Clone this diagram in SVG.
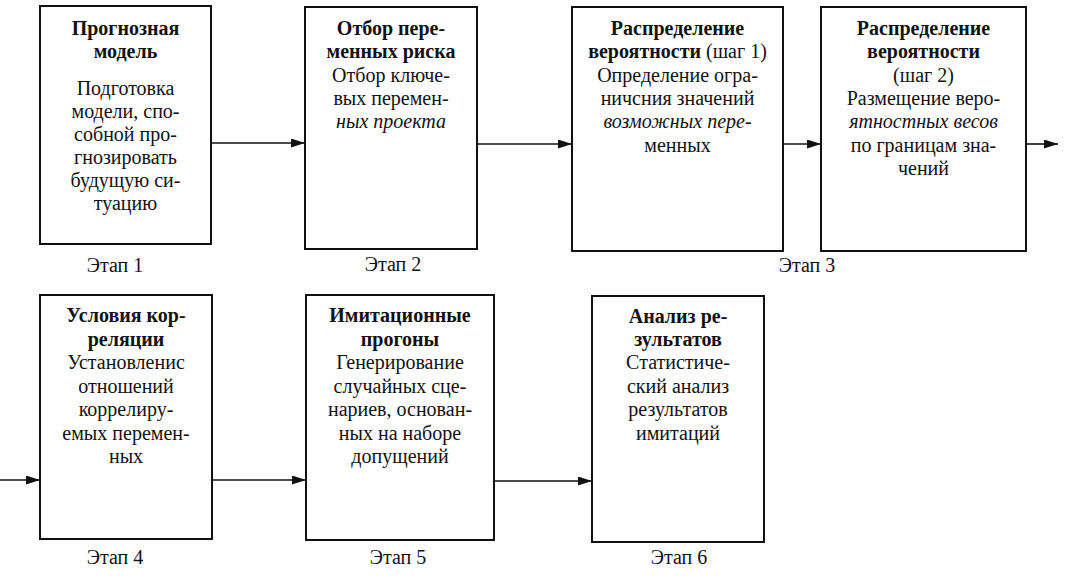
<svg xmlns="http://www.w3.org/2000/svg" width="1066" height="579" viewBox="0 0 1066 579">
<style>
.box{fill:#fff;stroke:#111;stroke-width:2}
text{font-family:"Liberation Serif","Times New Roman",serif;font-size:20px;fill:#111;text-anchor:middle}
.b{font-weight:bold}
.i{font-style:italic}
.con line{stroke:#111;stroke-width:1.6}
</style>
<defs>
<marker id="ah" markerUnits="userSpaceOnUse" markerWidth="15" markerHeight="10" refX="14" refY="4.5" orient="auto">
<path d="M0,0 L14,4.5 L0,9 z" fill="#111"/>
</marker>
</defs>
<rect width="1066" height="579" fill="#fff"/>
<g id="connectors" class="con">
<line x1="211" y1="143" x2="305" y2="143" marker-end="url(#ah)"/>
<line x1="477" y1="144" x2="572" y2="144" marker-end="url(#ah)"/>
<line x1="783" y1="144" x2="821" y2="144" marker-end="url(#ah)"/>
<line x1="1026" y1="144" x2="1058" y2="144" marker-end="url(#ah)"/>
<line x1="0" y1="480" x2="40" y2="480" marker-end="url(#ah)"/>
<line x1="212" y1="480" x2="306" y2="480" marker-end="url(#ah)"/>
<line x1="494" y1="481" x2="592" y2="481" marker-end="url(#ah)"/>
</g>
<g id="n1">
<rect class="box" x="40" y="6" width="171" height="238"/>
<text x="125.5" y="35" class="b">Прогнозная</text>
<text x="125.5" y="58" class="b">модель</text>
<text x="125.5" y="95">Подготовка</text>
<text x="125.5" y="118">модели, спо-</text>
<text x="125.5" y="141">собной про-</text>
<text x="125.5" y="164">гнозировать</text>
<text x="125.5" y="187">будущую си-</text>
<text x="125.5" y="210">туацию</text>
<text x="115" y="272">Этап 1</text>
</g>
<g id="n2">
<rect class="box" x="305" y="7" width="172" height="242"/>
<text x="391" y="35" class="b">Отбор пере-</text>
<text x="391" y="58" class="b">менных риска</text>
<text x="391" y="82">Отбор ключе-</text>
<text x="391" y="105">вых перемен-</text>
<text x="391" y="128" class="i">ных проекта</text>
<text x="393" y="271">Этап 2</text>
</g>
<g id="n3">
<rect class="box" x="572" y="7" width="211" height="244"/>
<text x="677.5" y="35" class="b">Распределение</text>
<text x="677.5" y="58"><tspan class="b">вероятности</tspan> (шаг 1)</text>
<text x="677.5" y="82">Определение огра-</text>
<text x="677.5" y="105">ничсния значений</text>
<text x="677.5" y="128" class="i">возможных пере-</text>
<text x="677.5" y="152">менных</text>
</g>
<g id="n3b">
<rect class="box" x="821" y="7" width="205" height="244"/>
<text x="923.5" y="35" class="b">Распределение</text>
<text x="923.5" y="58" class="b">вероятности</text>
<text x="923.5" y="82">(шаг 2)</text>
<text x="923.5" y="105">Размещение веро-</text>
<text x="923.5" y="128" class="i">ятностных весов</text>
<text x="923.5" y="152">по границам зна-</text>
<text x="923.5" y="175">чений</text>
</g>
<text x="807" y="272">Этап 3</text>
<g id="n4">
<rect class="box" x="40" y="295" width="172" height="244"/>
<text x="126" y="322" class="b">Условия кор-</text>
<text x="126" y="346" class="b">реляции</text>
<text x="126" y="369">Установленис</text>
<text x="126" y="393">отношений</text>
<text x="126" y="416">коррелиру-</text>
<text x="126" y="440">емых перемен-</text>
<text x="126" y="463">ных</text>
<text x="115" y="564">Этап 4</text>
</g>
<g id="n5">
<rect class="box" x="306" y="295" width="188" height="245"/>
<text x="400" y="322" class="b">Имитационные</text>
<text x="400" y="346" class="b">прогоны</text>
<text x="400" y="369">Генерирование</text>
<text x="400" y="393">случайных сце-</text>
<text x="400" y="416">нариев, основан-</text>
<text x="400" y="440">ных на наборе</text>
<text x="400" y="463">допущений</text>
<text x="398" y="564">Этап 5</text>
</g>
<g id="n6">
<rect class="box" x="592" y="296" width="172" height="246"/>
<text x="678" y="323" class="b">Анализ ре-</text>
<text x="678" y="346" class="b">зультатов</text>
<text x="678" y="369">Статистиче-</text>
<text x="678" y="393">ский анализ</text>
<text x="678" y="416">результатов</text>
<text x="678" y="440">имитаций</text>
<text x="679" y="564">Этап 6</text>
</g>
</svg>
